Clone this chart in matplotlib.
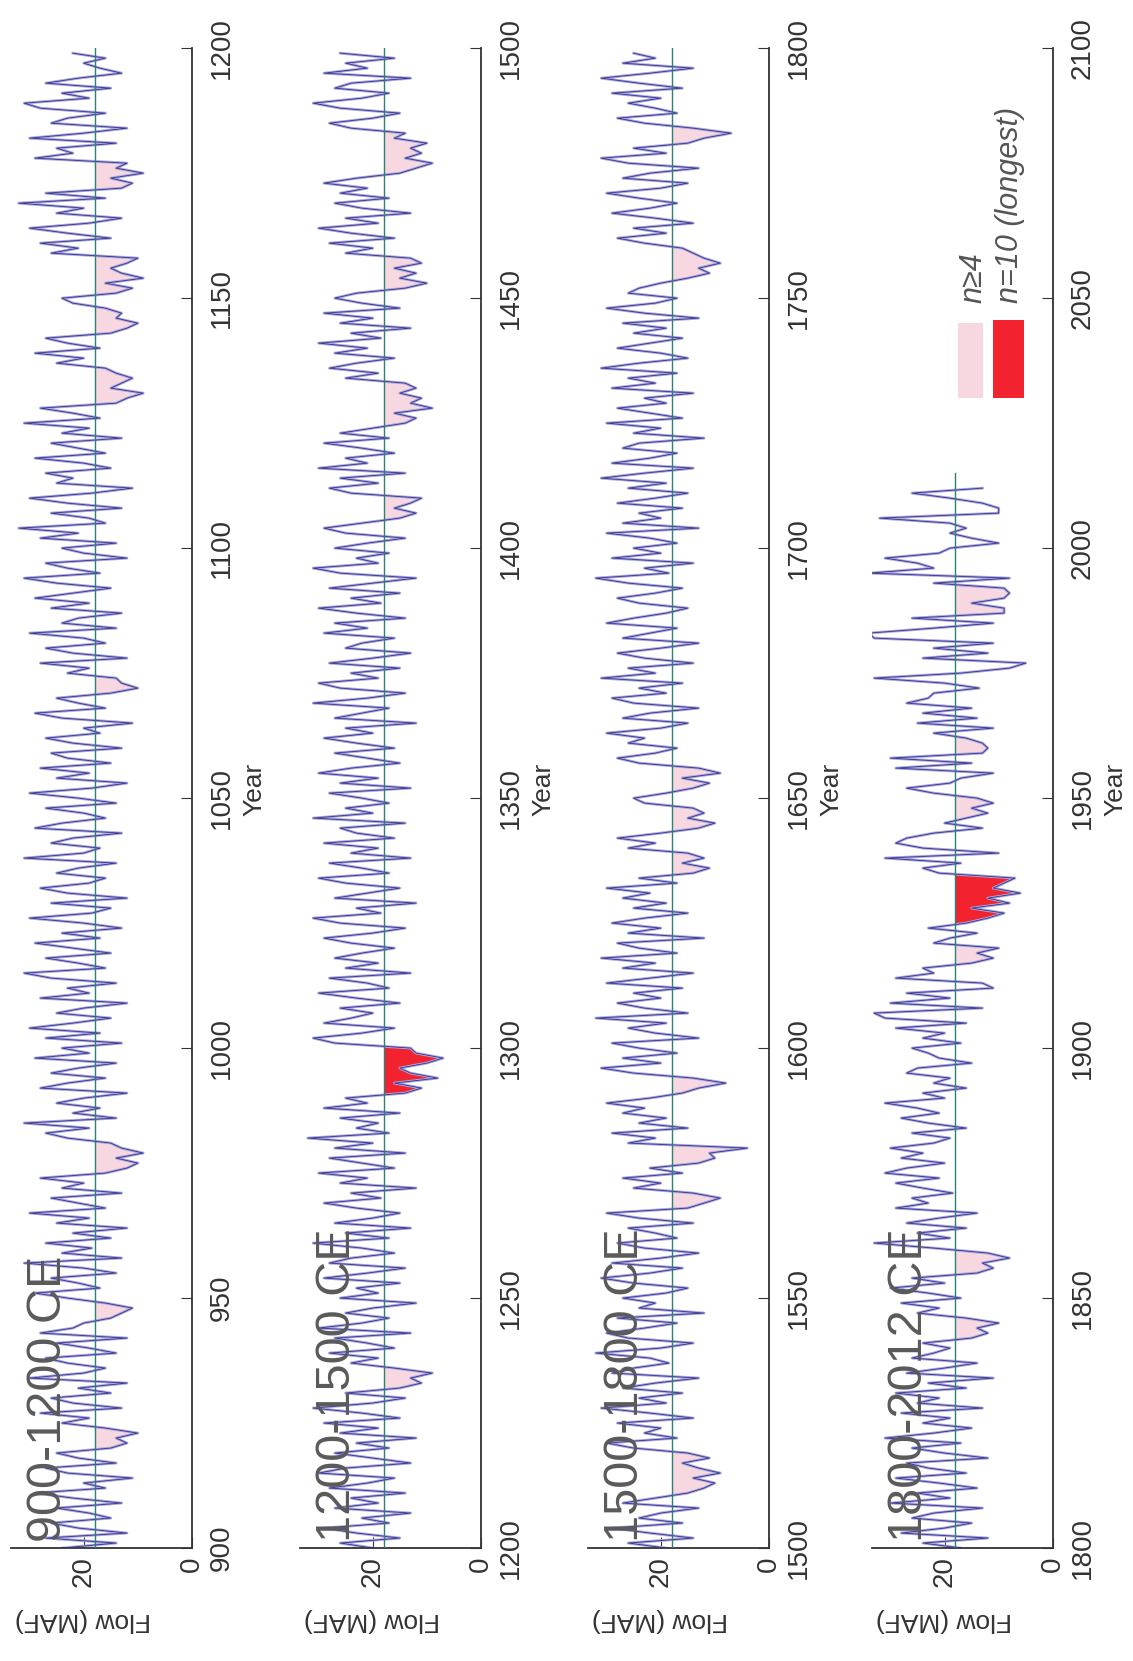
import numpy as np
import matplotlib.pyplot as plt
from matplotlib.patches import Rectangle

plt.rcParams['font.family'] = ['Liberation Sans', 'DejaVu Sans']

# values (annual flow, MAF), one list per panel
meanFlow = 18.0
panelStarts = [900, 1200, 1500, 1800]
panelEnds = [1200, 1500, 1800, 2100]
panelTitles = ["900-1200 CE", "1200-1500 CE", "1500-1800 CE", "1800-2012 CE"]
flowTicks = [0, 20]
legendLabels = ["n\u22654", "n=10 (longest)"]

flow900 = [
    24, 14, 27, 12, 21, 26, 15, 19, 25, 13,
    22, 29, 16, 20, 11, 23, 27, 14, 21, 25,
    15, 12, 14, 10, 16, 24, 19, 28, 13, 22,
    26, 15, 21, 12, 30, 20, 16, 23, 27, 14,
    19, 25, 12, 28, 22, 20, 15, 13, 11, 16,
    23, 29, 17, 21, 26, 14, 20, 31, 13, 24,
    18.5, 27, 15, 22, 12, 25, 19, 30, 16, 21,
    26, 13, 24, 20, 28, 16, 12, 10, 14, 9,
    13, 15, 23, 27, 19, 31, 14, 22, 17, 25,
    20, 12, 28, 23, 16, 26, 21, 14, 29, 19,
    24, 13, 27, 17, 30, 22, 15, 25, 20, 12,
    28, 19, 23, 14, 26, 31, 16, 21, 27, 15,
    22, 29, 17, 24, 13, 20, 30, 18.5, 15, 26,
    12, 23, 28, 19, 16, 25, 21, 14, 31, 20,
    17, 26, 22, 13, 29, 24, 16, 20, 27, 14,
    21, 30, 18.5, 12, 25, 19, 28, 15, 23, 26,
    13, 22, 27, 17, 20, 11, 24, 29, 16, 21,
    25, 15, 10, 13, 14, 23, 19, 28, 12, 22,
    27, 16, 20, 30, 14, 24, 21, 13, 26, 19,
    29, 22, 15, 25, 31, 17, 23, 27, 12, 20,
    24, 14, 28, 21, 32, 16, 19, 26, 13, 23,
    30, 18.5, 11, 25, 22, 27, 15, 20, 29, 16,
    21, 26, 13, 24, 19, 31, 17, 22, 28, 14,
    12, 9, 15, 13, 11, 14, 16, 25, 20, 29,
    17, 23, 27, 15, 12, 10, 14, 13, 16, 22,
    24, 14, 11, 16, 9, 13, 15, 12, 10, 26,
    21, 28, 15, 23, 30, 19, 13, 25, 20, 32,
    16, 27, 13, 11, 15, 9, 14, 12, 29, 22,
    25, 14, 30, 20, 12, 26, 23, 16, 28, 31,
    19, 24, 15, 27, 21, 13, 17, 20, 16, 22,
]

flow1200 = [
    20, 26, 15, 23, 29, 17, 22, 13, 27, 19,
    24, 14, 28, 21, 16, 30, 25, 13, 20, 27,
    17, 23, 12, 26, 19, 29, 15, 22, 31, 20,
    14, 25, 15, 11, 13, 9, 16, 24, 19, 28,
    16, 21, 27, 13, 30, 22, 17, 25, 20, 12,
    26, 19, 23, 15, 29, 21, 14, 28, 24, 16,
    22, 31, 17, 25, 13, 27, 20, 15, 23, 29,
    18.5, 24, 12, 26, 21, 30, 16, 22, 28, 14,
    27, 20, 32, 17, 23, 19, 26, 15, 29, 21,
    25, 14, 11, 16, 8, 13, 15, 10, 7, 12,
    13, 27, 31, 22, 16, 29, 24, 20, 26, 15,
    23, 30, 17, 21, 28, 13, 25, 19, 27, 22,
    16, 24, 29, 20, 14, 26, 31, 18.5, 23, 12,
    27, 21, 15, 25, 30, 17, 22, 28, 13, 24,
    19, 29, 16, 23, 26, 14, 31, 20, 25, 17,
    22, 28, 13, 26, 19, 30, 24, 15, 21, 27,
    16, 23, 29, 20, 25, 12, 27, 22, 17, 31,
    21, 14, 26, 30, 19, 24, 15, 28, 20, 13,
    25, 22, 16, 29, 21, 27, 14, 23, 30, 18.5,
    24, 15, 28, 20, 12, 26, 31, 19, 23, 17,
    27, 21, 14, 25, 29, 22, 15, 12, 16, 13,
    11, 24, 28, 19, 26, 14, 30, 21, 25, 16,
    22, 29, 17, 26, 20, 14, 12, 16, 9, 13,
    11, 15, 12, 14, 25, 19, 28, 23, 16, 27,
    21, 30, 18.5, 24, 13, 26, 20, 29, 15, 22,
    27, 23, 14, 10, 15, 12, 16, 11, 13, 25,
    20, 28, 16, 24, 30, 19, 25, 13, 22, 27,
    17, 26, 21, 29, 23, 15, 12, 9, 14, 11,
    13, 10, 16, 14, 24, 28, 20, 15, 26, 31,
    22, 17, 27, 24, 13, 29, 21, 25, 16, 26,
]

flow1500 = [
    19, 26, 14, 22, 29, 16, 24, 20, 13, 27,
    21, 15, 12, 10, 14, 9, 13, 16, 11, 15,
    25, 30, 17, 23, 20, 28, 14, 22, 31, 19,
    24, 16, 27, 21, 13, 29, 25, 18.5, 22, 32,
    20, 14, 26, 30, 23, 17, 28, 12, 24, 21,
    27, 19, 15, 25, 31, 22, 16, 29, 20, 13,
    23, 28, 17, 21, 26, 14, 24, 30, 15, 12,
    9, 14, 25, 20, 27, 16, 22, 13, 10, 11,
    4, 26, 21, 29, 15, 24, 19, 27, 23, 30,
    22, 16, 13, 8, 14, 25, 31, 20, 27, 17,
    24, 29, 13, 21, 26, 19, 32, 15, 23, 28,
    20, 25, 16, 30, 22, 14, 27, 21, 31, 17,
    24, 28, 12, 26, 20, 29, 23, 15, 25, 19,
    27, 22, 30, 17, 24, 14, 11, 16, 12, 15,
    26, 21, 28, 20, 13, 10, 15, 12, 14, 23,
    25, 19, 14, 11, 16, 9, 13, 24, 28, 21,
    17, 26, 23, 30, 20, 15, 27, 22, 13, 25,
    29, 19, 24, 16, 31, 21, 26, 14, 23, 28,
    20, 13, 27, 22, 17, 30, 25, 19, 15, 24,
    28, 21, 16, 26, 32, 18.5, 23, 14, 29, 20,
    25, 17, 22, 30, 13, 27, 20, 24, 16, 28,
    21, 15, 26, 19, 31, 23, 14, 29, 22, 17,
    27, 24, 12, 25, 20, 30, 16, 22, 28, 19,
    23, 14, 29, 21, 26, 17, 31, 24, 15, 20,
    28, 22, 16, 25, 19, 27, 13, 23, 30, 21,
    17, 26, 24, 20, 15, 11, 13, 9, 12, 14,
    16, 23, 28, 19, 25, 14, 21, 29, 22, 17,
    24, 30, 20, 15, 27, 22, 13, 26, 31, 19,
    25, 15, 12, 7, 14, 23, 28, 17, 21, 26,
    20, 29, 16, 24, 31, 22, 14, 27, 21, 25,
]

flow1800 = [
    17, 24, 12, 28, 20, 15, 26, 22, 13, 30,
    19, 25, 14, 21, 29, 16, 23, 27, 12, 20,
    26, 17, 31, 22, 15, 24, 19, 28, 13, 25,
    21, 29, 16, 23, 11, 27, 20, 14, 26, 22,
    19, 24, 15, 12, 14, 10, 16, 25, 21, 28,
    17, 23, 30, 20, 26, 14, 11, 13, 8, 12,
    22, 33, 19, 25, 16, 27, 21, 14, 29, 23,
    26, 18.5, 24, 29, 21, 31, 27, 20, 28, 24,
    30, 22, 19, 26, 16, 23, 28, 21, 25, 31,
    20, 24, 16, 22, 19, 27, 25, 15, 21, 23,
    26, 17, 24, 20, 29, 16, 31, 33, 13, 30,
    19, 27, 11, 13, 29, 22, 24, 15, 11, 14,
    10, 22, 19, 14, 23, 16, 12, 9, 15, 8,
    12, 6, 11, 9, 7, 21, 24, 17, 31, 10,
    24, 29, 27, 22, 13, 20, 16, 12, 15, 11,
    14, 22, 27, 19, 17, 11, 29, 15, 30, 13,
    12, 13, 16, 22, 11, 25, 14, 24, 15, 27,
    23, 22, 13.6, 20, 33, 17, 8, 5, 24, 12,
    22, 11, 33, 34, 22, 11, 26, 9, 9, 15,
    9, 8, 9, 22, 8, 34, 22, 25, 31, 21,
    19, 10, 15, 19, 16, 19, 32, 10, 10, 13,
    19, 26, 13,
]

panelFlows = [flow900, flow1200, flow1500, flow1800]


def findDryRuns(flows):
    # consecutive years below the mean: (first index, last index)
    runs = []
    start = None
    for i, f in enumerate(flows):
        if f < meanFlow:
            if start is None:
                start = i
        elif start is not None:
            runs.append((start, i - 1))
            start = None
    if start is not None:
        runs.append((start, len(flows) - 1))
    return runs


def crossYear(years, flows, i, j):
    t = (flows[i] - meanFlow) / (flows[i] - flows[j])
    return years[i] + t * (years[j] - years[i])


def shadeRuns(ax, years, flows):
    for a, b in findDryRuns(flows):
        n = b - a + 1
        if n < 4:
            continue
        color = "#f2222e" if n >= 10 else "#f7d8e1"
        y0 = crossYear(years, flows, a - 1, a) if a > 0 else years[a]
        y1 = crossYear(years, flows, b, b + 1) if b < len(flows) - 1 else years[b]
        ys = [y0] + list(years[a:b + 1]) + [y1]
        xs = [meanFlow] + list(flows[a:b + 1]) + [meanFlow]
        ax.fill_betweenx(ys, xs, meanFlow, color=color, linewidth=0, zorder=1)


fig = plt.figure(figsize=(11.33, 16.61), dpi=100)
lefts = [0.0094, 0.2645, 0.5187, 0.7692]

for k in range(4):
    ax = fig.add_axes([lefts[k], 0.068, 0.160, 0.903])
    flows = np.array(panelFlows[k], dtype=float)
    years = panelStarts[k] + np.arange(len(flows))

    shadeRuns(ax, years, flows)
    ax.plot(flows, years, color="#aaa7de", linewidth=2.0, zorder=2)
    ax.plot(flows, years, color="#34348a", linewidth=0.6, zorder=3)
    lastYear = min(years[-1] + 3, panelEnds[k])
    ax.plot([meanFlow, meanFlow], [years[0], lastYear], color="#2f7f78",
            linewidth=1.0, zorder=4)

    ax.set_xlim(33.5, 0)
    ax.set_ylim(panelStarts[k], panelEnds[k])
    ax.set_xticks(flowTicks)
    ax.set_yticks(np.arange(panelStarts[k], panelEnds[k] + 1, 50))

    for side in ["top", "left"]:
        ax.spines[side].set_visible(False)
    for side in ["bottom", "right"]:
        ax.spines[side].set_color("#333333")
        ax.spines[side].set_linewidth(1.3)

    ax.yaxis.tick_right()
    ax.tick_params(axis="y", direction="in", length=8, labelsize=20,
                   labelrotation=90, pad=12, colors="#333333")
    ax.tick_params(axis="x", direction="in", length=8, labelsize=20,
                   labelrotation=90, pad=6, colors="#333333")
    for lbl in ax.get_yticklabels():
        lbl.set_verticalalignment("center")

    ax.set_xlabel("Flow (MAF)", fontsize=19, rotation=180, color="#333333",
                  va="center", ha="center")
    ax.xaxis.set_label_coords(0.40, -0.048)
    ax.yaxis.set_label_position("right")
    ax.set_ylabel("Year", fontsize=19, rotation=90, color="#333333",
                  va="center", ha="center")
    ax.yaxis.set_label_coords(1.345, 0.506)

    ax.text(0.21, 0.004, panelTitles[k], transform=ax.transAxes, rotation=90,
            fontsize=35, color="#5a5a5a", ha="center", va="bottom", zorder=5)

    if k == 3:
        ax.add_patch(Rectangle((0.475, 0.767), 0.141, 0.05, transform=ax.transAxes,
                               facecolor="#f7d8e1", edgecolor="none"))
        ax.add_patch(Rectangle((0.672, 0.767), 0.170, 0.052, transform=ax.transAxes,
                               facecolor="#f2222e", edgecolor="none"))
        ax.text(0.56, 0.83, legendLabels[0], transform=ax.transAxes, rotation=90,
                fontsize=22, style="italic", color="#555555", ha="center", va="bottom")
        ax.text(0.765, 0.83, legendLabels[1], transform=ax.transAxes, rotation=90,
                fontsize=22, style="italic", color="#555555", ha="center", va="bottom")

fig.savefig("out.png", dpi=100)
